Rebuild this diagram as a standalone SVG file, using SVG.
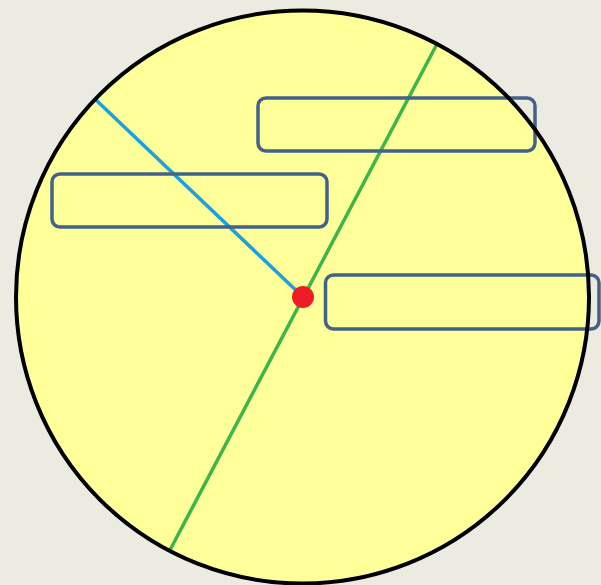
<svg xmlns="http://www.w3.org/2000/svg" width="601" height="585" viewBox="0 0 601 585">
<style>
.box{fill:none;stroke:#43628a;stroke-width:3.5}
.ln{fill:none;stroke-width:3.5;stroke-linecap:round}
</style>
<rect x="0" y="0" width="601" height="585" fill="#ecebe2"/>
<g id="circle"><circle cx="302.5" cy="297" r="286.5" fill="#ffff99" stroke="none"/></g>
<g id="connectors">
<line class="ln" x1="96" y1="100" x2="303" y2="297" stroke="#1ba1e2"/>
<line class="ln" x1="437" y1="44" x2="170" y2="550" stroke="#3db54a"/>
</g>
<g id="box1"><rect class="box" x="258" y="98" width="277" height="53" rx="8"/></g>
<g id="box2"><rect class="box" x="52" y="174" width="275" height="53" rx="8"/></g>
<g id="box3"><rect class="box" x="325.5" y="275" width="273.5" height="54" rx="8"/></g>
<g id="outline"><circle cx="302.5" cy="297" r="286.5" fill="none" stroke="#000" stroke-width="4"/></g>
<g id="dot"><circle cx="303" cy="297" r="11" fill="#ee1c25"/></g>
</svg>
